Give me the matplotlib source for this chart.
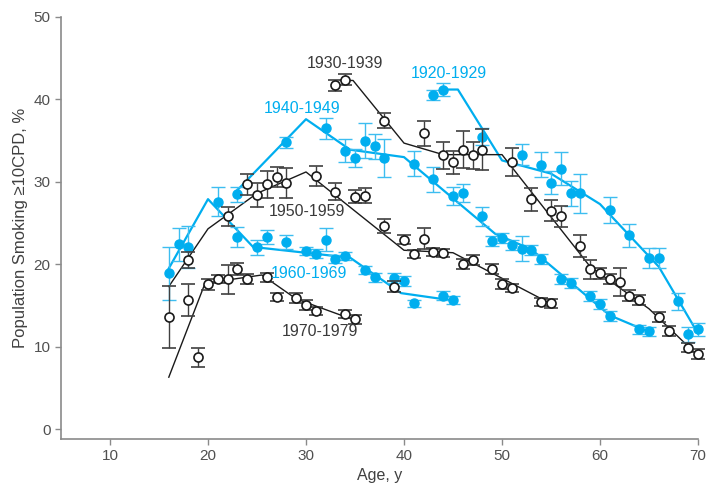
import matplotlib
matplotlib.use('Agg')
import matplotlib.pyplot as plt

plt.rcParams['font.family'] = ['Liberation Sans', 'DejaVu Sans']

BLUE = '#00aeef'
BLUE_ERR = '#3dbdf0'
BLACK = '#1a1a1a'
GRAY_ERR = '#404040'
TEXT_GRAY = '#3a3a3a'
AXIS_GRAY = '#8a8a8a'

# ---- observed points (age, % smoking >=10 CPD, error) ----
c1920_age = [43, 44, 48, 52, 54, 55, 56, 57, 58, 61, 63, 65, 66, 68, 69, 70]
c1920_val = [40.5, 41.2, 35.5, 33.3, 32.1, 29.9, 31.6, 28.6, 28.6, 26.6, 23.5, 20.8, 20.8, 15.5, 11.5, 12.1]
c1920_err = [0.6, 0.8, 1.0, 1.3, 1.5, 1.4, 2.0, 1.5, 2.4, 1.6, 1.35, 1.2, 1.2, 1.0, 0.9, 0.8]

c1930_age = [33, 34, 38, 42, 44, 45, 46, 47, 48, 51, 53, 55, 56, 58, 59, 60, 61, 62, 63, 64, 66, 67, 69, 70]
c1930_val = [41.7, 42.4, 37.4, 35.9, 33.2, 32.4, 33.9, 33.2, 33.9, 32.4, 27.9, 26.5, 25.8, 22.2, 19.4, 18.9,
             18.2, 17.8, 16.2, 15.65, 13.55, 11.9, 9.9, 9.1]
c1930_err = [0.7, 0.7, 0.9, 1.5, 1.6, 1.4, 2.25, 1.65, 2.5, 1.65, 1.4, 1.25, 1.3, 1.3, 1.15, 0.7,
             0.6, 1.7, 0.7, 0.6, 0.6, 0.6, 0.6, 0.6]

c1940_age = [23, 28, 32, 34, 35, 36, 37, 38, 41, 43, 45, 46, 48, 49, 50, 51, 52, 53, 54, 56, 57, 59, 60, 61, 64, 65]
c1940_val = [28.5, 34.8, 36.5, 33.8, 32.9, 35.0, 34.3, 32.9, 32.2, 30.3, 28.3, 28.6, 25.8, 22.8, 23.2, 22.3,
             21.9, 21.7, 20.6, 18.2, 17.7, 16.1, 15.2, 13.7, 12.1, 11.85]
c1940_err = [0.9, 0.7, 1.3, 1.4, 1.1, 2.1, 1.5, 2.3, 1.55, 1.5, 1.1, 1.1, 1.2, 0.6, 0.6, 0.6,
             1.5, 0.6, 0.6, 0.6, 0.6, 0.6, 0.6, 0.6, 0.5, 0.5]

c1950_age = [18, 22, 24, 25, 26, 27, 28, 31, 33, 35, 36, 38, 39, 40, 41, 42, 43, 44, 46, 47, 49, 50, 51, 54, 55]
c1950_val = [20.5, 25.85, 29.7, 28.4, 29.7, 30.6, 29.9, 30.7, 28.8, 28.2, 28.3, 24.6, 17.3, 23.0, 21.2, 23.1,
             21.5, 21.4, 20.0, 20.5, 19.4, 17.6, 17.15, 15.45, 15.25]
c1950_err = [1.0, 1.15, 1.3, 1.4, 1.65, 1.25, 1.8, 1.2, 1.0, 0.8, 0.9, 0.85, 0.7, 0.5, 0.5, 1.3,
             0.5, 0.5, 0.6, 0.6, 0.6, 0.6, 0.5, 0.5, 0.5]

c1960_age = [16, 17, 18, 21, 23, 25, 26, 28, 30, 31, 32, 33, 34, 36, 37, 39, 40, 41, 44, 45]
c1960_val = [18.9, 22.45, 22.1, 27.6, 23.3, 22.05, 23.3, 22.7, 21.6, 21.3, 23.0, 20.6, 21.0, 19.3, 18.4,
             18.3, 18.0, 15.25, 16.2, 15.7]
c1960_err = [3.2, 2.0, 2.5, 1.8, 1.25, 0.9, 0.8, 0.9, 0.5, 0.6, 1.35, 0.5, 0.5, 0.5, 0.5,
             0.6, 0.6, 0.4, 0.5, 0.5]

c1970_age = [16, 18, 19, 20, 21, 22, 23, 24, 26, 27, 29, 30, 31, 34, 35]
c1970_val = [13.6, 15.65, 8.7, 17.55, 18.2, 18.2, 19.4, 18.2, 18.4, 16.0, 15.9, 15.05, 14.3, 14.0, 13.3]
c1970_err = [3.75, 1.9, 1.15, 0.65, 0.5, 1.75, 0.75, 0.6, 0.6, 0.5, 0.6, 0.6, 0.5, 0.5, 0.5]

# ---- model fit curves (knots) ----
fit1920_age = [44.5, 45.5, 50, 55, 60, 66, 70]
fit1920_val = [41.2, 41.2, 32.6, 31.0, 27.3, 19.7, 11.6]
fit1930_age = [33.5, 34.8, 40, 44, 50, 59, 65, 70]
fit1930_val = [42.3, 42.3, 34.7, 33.3, 33.3, 19.7, 14.6, 8.9]
fit1940_age = [23, 30, 34.5, 40, 49.3, 53, 61, 65]
fit1940_val = [29.0, 37.6, 33.9, 33.0, 23.7, 21.8, 13.8, 11.8]
fit1950_age = [16, 20, 25, 30, 40, 45, 55]
fit1950_val = [17.3, 24.3, 28.6, 31.2, 21.7, 21.4, 15.2]
fit1960_age = [16, 20, 24.6, 34.5, 39.7, 45]
fit1960_val = [19.5, 27.9, 22.1, 20.8, 16.5, 15.6]
fit1970_age = [16, 19.7, 25.5, 29, 35]
fit1970_val = [6.3, 17.7, 18.7, 15.8, 13.2]

cohorts = [
    ('1920-1929', True, c1920_age, c1920_val, c1920_err, fit1920_age, fit1920_val, (449, 73)),
    ('1930-1939', False, c1930_age, c1930_val, c1930_err, fit1930_age, fit1930_val, (345, 63)),
    ('1940-1949', True, c1940_age, c1940_val, c1940_err, fit1940_age, fit1940_val, (302, 109)),
    ('1950-1959', False, c1950_age, c1950_val, c1950_err, fit1950_age, fit1950_val, (307, 211)),
    ('1960-1969', True, c1960_age, c1960_val, c1960_err, fit1960_age, fit1960_val, (309, 274)),
    ('1970-1979', False, c1970_age, c1970_val, c1970_err, fit1970_age, fit1970_val, (320, 332)),
]

W, H = 707, 487
fig = plt.figure(figsize=(W / 100, H / 100), dpi=100)
ax = fig.add_axes([61 / W, 1 - 439 / H, (698 - 61) / W, (439 - 17) / H])

for name, blue, age, val, err, fa, fv, lpos in cohorts:
    if blue:
        ax.plot(fa, fv, color=BLUE, lw=1.6, zorder=2)
        eb = ax.errorbar(age, val, yerr=err, fmt='o', ms=6.5, mfc=BLUE, mec=BLUE,
                         ecolor=BLUE_ERR, elinewidth=1.0, capsize=5, capthick=1.0, zorder=3)
        tcol = BLUE
    else:
        ax.plot(fa, fv, color=BLACK, lw=1.0, zorder=2)
        eb = ax.errorbar(age, val, yerr=err, fmt='o', ms=6.5, mfc='white', mec=BLACK, mew=1.2,
                         ecolor=GRAY_ERR, elinewidth=1.0, capsize=5, capthick=1.0, zorder=4)
        tcol = TEXT_GRAY
    for art in eb.lines[0:1] + tuple(eb.lines[1]) + tuple(eb.lines[2]):
        art.set_clip_on(False)
    # label position given in pixels -> convert to figure fraction
    fig.text(lpos[0] / W, 1 - lpos[1] / H, name, color=tcol, fontsize=11.5,
             ha='center', va='center')

ax.set_xlim(5, 70)
ax.set_ylim(-1.2, 50)
ax.set_xticks([10, 20, 30, 40, 50, 60, 70])
ax.set_yticks([0, 10, 20, 30, 40, 50])

for s in ['top', 'right']:
    ax.spines[s].set_visible(False)
for s in ['left', 'bottom']:
    ax.spines[s].set_color(AXIS_GRAY)
    ax.spines[s].set_linewidth(1.2)

ax.tick_params(colors=AXIS_GRAY, labelcolor='#505050', labelsize=11, length=4, width=1)
ax.set_xlabel('Age, y', fontsize=11.5, color='#404040', labelpad=3)
ax.set_ylabel('Population Smoking \u226510CPD, %', fontsize=12, color='#404040', labelpad=4)

fig.savefig('out.png', dpi=100)
